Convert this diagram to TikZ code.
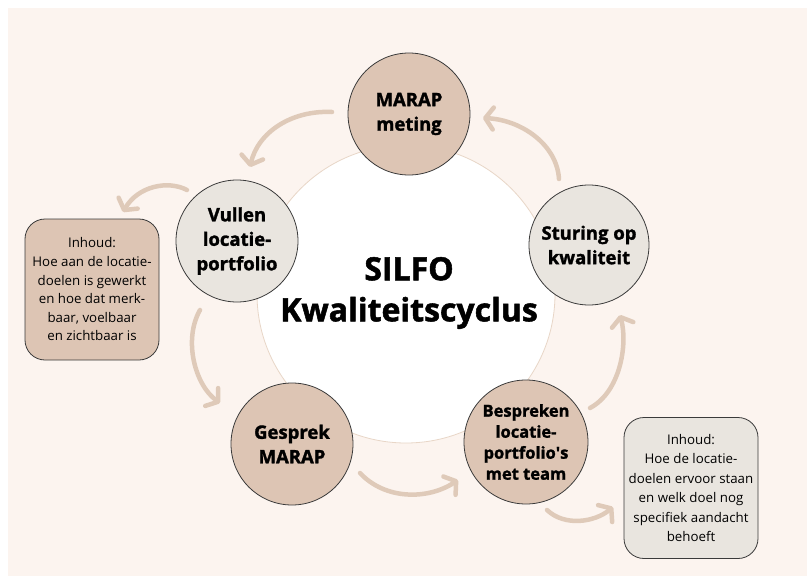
\documentclass[tikz,border=0pt]{standalone}
\usepackage{fontspec}
\setmainfont{Open Sans}[BoldFeatures={FakeBold=1.6}]
\usetikzlibrary{arrows.meta}
\definecolor{cream}{HTML}{FCF4EF}
\definecolor{tan}{HTML}{DDC5B4}
\definecolor{lightgrey}{HTML}{E9E5DF}
\definecolor{arrowc}{HTML}{DFCAB9}
\definecolor{ringc}{HTML}{E8D6C7}
\definecolor{edgec}{HTML}{3A3A3A}
\tikzset{
  stage/.style={circle, draw=edgec, line width=0.8pt, minimum size=#1, inner sep=0pt, align=center, font=\bfseries\fontsize{18.5}{24.5}\selectfont},
  tanstage/.style={stage=#1, fill=tan},
  greystage/.style={stage=#1, fill=lightgrey},
  infobox/.style={draw=edgec, line width=0.8pt, rounded corners=20pt, minimum width=134pt, minimum height=141pt, align=center, font=\fontsize{13.3}{18.6}\selectfont, inner sep=2pt},
  flow/.style={draw=arrowc, line width=4.5pt, line cap=round, -{Straight Barb[round,length=8pt,width=22pt]}}
}
\begin{document}
\begin{tikzpicture}[x=1pt,y=-1pt]
\useasboundingbox (0,0) rectangle (807,576);
\fill[white] (0,0) rectangle (807,576);
\fill[cream] (8,8) rectangle (807,576);
% central circle
\node[circle, fill=white, draw=ringc, line width=0.8pt, minimum size=298pt, inner sep=0pt] (hub) at (406,294) {};
\node[align=center, font=\bfseries\fontsize{32}{41}\selectfont] (title) at (409,293) {SILFO\\Kwaliteitscyclus};
% arrows
\coordinate (a1s) at (332,112); \coordinate (a1e) at (250,167);
\coordinate (a2s) at (559,179); \coordinate (a2e) at (483,118);
\coordinate (a3s) at (187,190); \coordinate (a3e) at (123,212);
\coordinate (a4s) at (200,310); \coordinate (a4e) at (220,403);
\coordinate (a5s) at (360,473); \coordinate (a5e) at (458,480);
\coordinate (a6s) at (590,408); \coordinate (a6e) at (620,315);
\coordinate (a7s) at (547,510); \coordinate (a7e) at (613,507);
\draw[flow] (a1s) .. controls (292,110) and (258,132) .. (a1e);
\draw[flow] (a2s) .. controls (557,145) and (522,120) .. (a2e);
\draw[flow] (a3s) .. controls (168,180) and (138,186) .. (a3e);
\draw[flow] (a4s) .. controls (183,340) and (195,385) .. (a4e);
\draw[flow] (a5s) .. controls (385,500) and (428,500) .. (a5e);
\draw[flow] (a6s) .. controls (620,392) and (628,345) .. (a6e);
\draw[flow] (a7s) .. controls (565,527) and (595,522) .. (a7e);
% stages
\node[tanstage=122pt] (meting) at (409,114) {MARAP\\meting};
\node[greystage=122pt] (vullen) at (237,241) {Vullen\\locatie-\\portfolio};
\node[greystage=120pt] (sturing) at (589,245) {Sturing op\\kwaliteit};
\node[tanstage=122pt] (gesprek) at (292,444) {Gesprek\\MARAP};
\node[tanstage=124pt, font=\bfseries\fontsize{16.5}{21}\selectfont] (bespreken) at (526,442) {Bespreken\\locatie-\\portfolio\textquotesingle s\\met team};
% info boxes
\node[infobox, fill=tan] (box1) at (92,289.5) {Inhoud:\\Hoe aan de locatie-\\doelen is gewerkt\\en hoe dat merk-\\baar, voelbaar\\en zichtbaar is};
\node[infobox, fill=lightgrey, font=\fontsize{13.3}{19.5}\selectfont] (box2) at (691,488) {Inhoud:\\Hoe de locatie-\\doelen ervoor staan\\en welk doel nog\\specifiek aandacht\\behoeft};
\end{tikzpicture}
\end{document}
